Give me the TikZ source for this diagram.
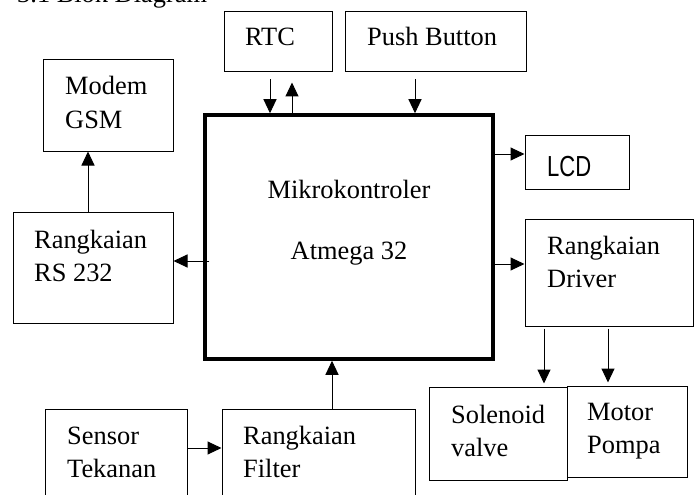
\documentclass[tikz,border=0pt]{standalone}
\usepackage{fontspec}
\usepackage{graphicx}
\setmainfont{Liberation Serif}
\newfontfamily\lcdfont{Liberation Sans}
\usetikzlibrary{arrows.meta}
\begin{document}
\begin{tikzpicture}[x=1pt,y=-1pt,
  box/.style={draw, line width=1pt, inner sep=0pt},
  txt/.style={anchor=base west, inner sep=0pt, font=\fontsize{26.4}{33.5}\selectfont},
  ctxt/.style={anchor=base, inner sep=0pt, font=\fontsize{26.4}{33.5}\selectfont},
  arr/.style={line width=1pt, -{Triangle[length=14pt,width=13pt]}}]
\useasboundingbox (0,0) rectangle (697,495);
\clip (0,0) rectangle (697,495);
% caption (cut off at top)
\node[txt] (cap) at (17,3) {3.1 Blok Diagram};
% boxes
\node[box, minimum width=108pt, minimum height=60pt] (rtc) at (278,42) {};
\node[box, minimum width=181pt, minimum height=60pt] (push) at (435.5,42) {};
\node[box, minimum width=130pt, minimum height=91pt] (modem) at (108,105.5) {};
\node[box, minimum width=160pt, minimum height=111pt] (rs) at (93,267.5) {};
\node[draw, line width=3.5pt, inner sep=0pt, minimum width=288pt, minimum height=244pt] (micro) at (349,237) {};
\node[box, minimum width=104pt, minimum height=53pt] (lcd) at (577,162.5) {};
\node[box, minimum width=168pt, minimum height=107pt] (drv) at (609,272.5) {};
\node[box, minimum width=138pt, minimum height=93pt] (sol) at (498,433.5) {};
\node[box, minimum width=120pt, minimum height=91pt] (mot) at (627,431.5) {};
\node[box, minimum width=142pt, minimum height=111pt] (sens) at (116,464.5) {};
\node[box, minimum width=193pt, minimum height=111pt] (filt) at (318.5,464.5) {};
% texts
\node[txt] (rtcT) at (245,46) {RTC};
\node[txt] (pushT) at (367,46) {Push Button};
\node[txt] (modemT) at (65,95) {\begin{tabular}[t]{@{}l@{}}Modem\\GSM\end{tabular}};
\node[txt] (rsT) at (34,248) {\begin{tabular}[t]{@{}l@{}}Rangkaian\\RS 232\end{tabular}};
\node[ctxt] (microT1) at (349,198) {Mikrokontroler};
\node[ctxt] (microT2) at (349,259) {Atmega 32};
\node[anchor=base west, inner sep=0pt, font=\lcdfont\fontsize{29}{33}\selectfont] (lcdT) at (547,176) {\scalebox{0.76}[1]{LCD}};
\node[txt] (drvT) at (547,254) {\begin{tabular}[t]{@{}l@{}}Rangkaian\\Driver\end{tabular}};
\node[txt] (solT) at (451,423) {\begin{tabular}[t]{@{}l@{}}Solenoid\\valve\end{tabular}};
\node[txt] (motT) at (587,420) {\begin{tabular}[t]{@{}l@{}}Motor\\Pompa\end{tabular}};
\node[txt] (sensT) at (67,444) {\begin{tabular}[t]{@{}l@{}}Sensor\\Tekanan\end{tabular}};
\node[txt] (filtT) at (243,444) {\begin{tabular}[t]{@{}l@{}}Rangkaian\\Filter\end{tabular}};
% connector end points
\coordinate (lcdin) at ([yshift=8.5pt]lcd.west);
\coordinate (drvin) at ([yshift=8.5pt]drv.west);
\coordinate (rsin) at ([yshift=6.5pt]rs.east);
\coordinate (rsout) at ([xshift=6pt]micro.west |- rsin);
% connectors
\draw[arr, shorten <=7pt] ([xshift=-8pt]rtc.south) -- ([xshift=-8pt]rtc.south |- micro.north);
\draw[arr, shorten >=10pt] ([xshift=14pt]rtc.south |- micro.north) -- ([xshift=14pt]rtc.south);
\draw[arr, shorten <=7pt] ([xshift=-20.5pt]push.south) -- ([xshift=-20.5pt]push.south |- micro.north);
\draw[arr] (micro.east |- lcdin) -- (lcdin);
\draw[arr] (micro.east |- drvin) -- (drvin);
\draw[arr] (rsout) -- (rsin);
\draw[arr] ([xshift=-5pt]rs.north) -- ([xshift=-5pt]rs.north |- modem.south);
\draw[arr, shorten <=2pt, shorten >=3pt] ([xshift=-65pt]drv.south) -- ([xshift=-65pt]drv.south |- sol.north);
\draw[arr, shorten <=2pt, shorten >=3pt] ([xshift=-1pt]drv.south) -- ([xshift=-1pt]drv.south |- mot.north);
\draw[arr] ([yshift=16.5pt]sens.east) -- ([yshift=16.5pt]filt.west);
\draw[arr] ([xshift=13.5pt]filt.north) -- ([xshift=13.5pt]filt.north |- micro.south);
\end{tikzpicture}
\end{document}
